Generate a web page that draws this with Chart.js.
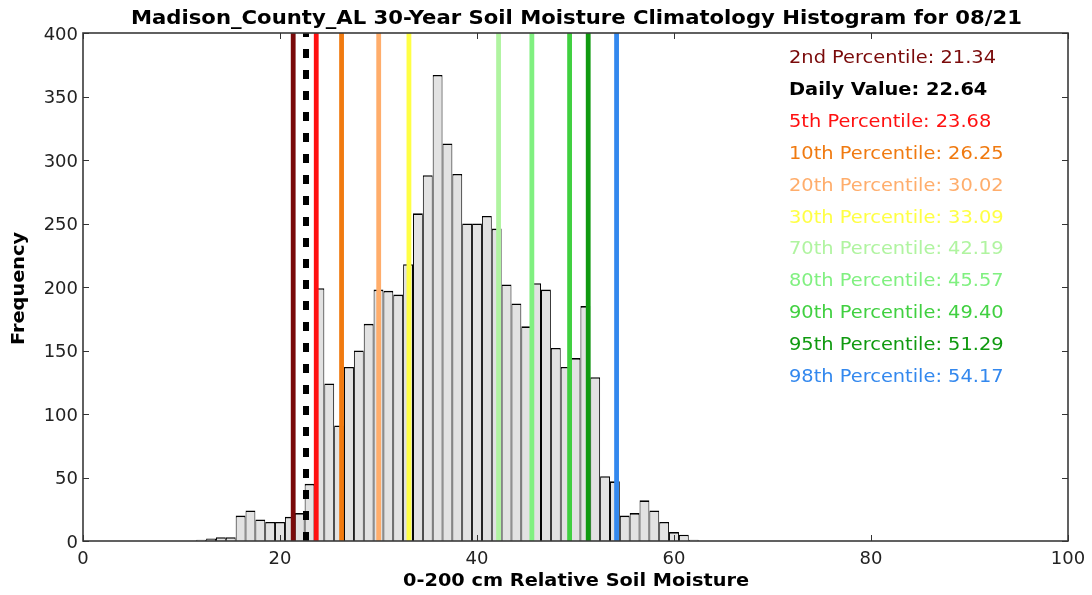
<!DOCTYPE html>
<html>
<head>
<meta charset="utf-8">
<script src="https://cdn.jsdelivr.net/npm/chart.js@4/dist/chart.umd.min.js"></script>
<style>
html,body{margin:0;padding:0;background:#fff;}
canvas{display:block;}
</style>
</head>
<body>
<canvas id="c" width="1092" height="595"></canvas>
<script>
// ---- data ----
const binCenters = [12,13,14,15,16,17,18,19,20,21,22,23,24,25,26,27,28,29,30,31,32,33,34,35,36,37,38,39,40,41,42,43,44,45,46,47,48,49,50,51,52,53,54,55,56,57,58,59,60,61,62];
const counts = [1,2,3,3,20,24,17,15,15,19,22,45,199,124,91,137,150,171,198,197,194,218,258,288,367,313,289,250,250,256,246,202,187,169,203,198,152,137,144,185,129,51,47,20,22,32,24,15,7,5,1];
const markerLabels = ["2nd Percentile","Daily Value","5th Percentile","10th Percentile","20th Percentile","30th Percentile","70th Percentile","80th Percentile","90th Percentile","95th Percentile","98th Percentile"];
const markerValues = [21.34,22.64,23.68,26.25,30.02,33.09,42.19,45.57,49.40,51.29,54.17];
const markerColors = ["#7a0a0a","#000000","#ff1010","#f07a10","#ffad6b","#ffff44","#b0f4a0","#80f080","#40d040","#109a10","#3388ee"];
const xTicks = [0,20,40,60,80,100];
const yTicks = [0,50,100,150,200,250,300,350,400];
const titleText = "Madison_County_AL 30-Year Soil Moisture Climatology Histogram for 08/21";
const xTitle = "0-200 cm Relative Soil Moisture";
const yTitle = "Frequency";

const FONT = '"DejaVu Sans", sans-serif';

const lineDatasets = markerValues.map((v, i) => ({
  type: 'line',
  label: markerLabels[i],
  data: [{x: v, y: 0}, {x: v, y: 400}],
  borderColor: markerColors[i],
  borderWidth: i === 1 ? 6 : 4.8,
  borderDash: i === 1 ? [9, 12] : [],
  pointRadius: 0,
  fill: false,
  order: 0
}));

const barDataset = {
  type: 'bar',
  label: 'hist',
  data: binCenters.map((c, i) => ({x: c, y: counts[i]})),
  backgroundColor: '#e2e2e2',
  borderColor: '#000000',
  borderWidth: { top: 1.6, left: 1, right: 1, bottom: 0 },
  borderSkipped: false,
  inflateAmount: 0,
  barPercentage: 1.0,
  categoryPercentage: 1.0,
  order: 10
};

function fitText(ctx, text, x, y, w, font, color, align) {
  ctx.save();
  ctx.font = font;
  ctx.fillStyle = color;
  ctx.textAlign = align || 'left';
  ctx.textBaseline = 'alphabetic';
  const m = ctx.measureText(text).width;
  const sx = w ? w / m : 1;
  ctx.translate(x, y);
  ctx.scale(sx, 1);
  ctx.fillText(text, 0, 0);
  ctx.restore();
}

const decor = {
  id: 'decor',
  afterDraw(chart) {
    const ctx = chart.ctx;
    const a = chart.chartArea;
    const xs = chart.scales.x, ys = chart.scales.y;
    ctx.save();
    // frame
    ctx.strokeStyle = '#3a3a3a';
    ctx.lineWidth = 1.6;
    ctx.strokeRect(a.left, a.top, a.right - a.left, a.bottom - a.top);
    // inward ticks
    ctx.lineWidth = 1;
    ctx.strokeStyle = '#333';
    ctx.beginPath();
    xTicks.forEach(t => {
      const px = Math.round(xs.getPixelForValue(t)) + 0.5;
      ctx.moveTo(px, a.bottom); ctx.lineTo(px, a.bottom - 6);
      ctx.moveTo(px, a.top); ctx.lineTo(px, a.top + 6);
    });
    yTicks.forEach(t => {
      const py = Math.round(ys.getPixelForValue(t)) + 0.5;
      ctx.moveTo(a.left, py); ctx.lineTo(a.left + 6, py);
      ctx.moveTo(a.right, py); ctx.lineTo(a.right - 6, py);
    });
    ctx.stroke();
    // tick labels
    ctx.font = '18px ' + FONT;
    ctx.fillStyle = '#222';
    ctx.textAlign = 'center';
    ctx.textBaseline = 'alphabetic';
    xTicks.forEach(t => {
      ctx.fillText(String(t), xs.getPixelForValue(t), 564);
    });
    ctx.textAlign = 'right';
    yTicks.forEach(t => {
      ctx.fillText(String(t), a.left - 5, ys.getPixelForValue(t) + 6.5);
    });
    ctx.restore();

    // title
    fitText(ctx, titleText, 576.5, 24, 891, 'bold 19px ' + FONT, '#000', 'center');
    // axis titles
    fitText(ctx, xTitle, 576, 586, 346, 'bold 17px ' + FONT, '#000', 'center');
    ctx.save();
    ctx.translate(24, 288.5);
    ctx.rotate(-Math.PI / 2);
    fitText(ctx, yTitle, 0, 0, 113, 'bold 17px ' + FONT, '#000', 'center');
    ctx.restore();

    // percentile text
    ctx.save();
    ctx.font = '18px ' + FONT;
    const ref = ctx.measureText("2nd Percentile: 21.34").width;
    const sx = 207 / ref;
    ctx.restore();
    markerLabels.forEach((lab, i) => {
      const txt = lab + ': ' + markerValues[i].toFixed(2);
      const bold = i === 1;
      ctx.save();
      ctx.font = (bold ? 'bold ' : '') + '18px ' + FONT;
      ctx.fillStyle = markerColors[i];
      ctx.textAlign = 'left';
      ctx.translate(789, 63 + i * 31.9);
      ctx.scale(sx, 1);
      ctx.fillText(txt, 0, 0);
      ctx.restore();
    });
  }
};

new Chart(document.getElementById('c'), {
  type: 'bar',
  data: { datasets: [...lineDatasets, barDataset] },
  options: {
    responsive: false,
    animation: false,
    devicePixelRatio: 1,
    layout: { padding: { top: 33, right: 24, left: 0, bottom: 0 } },
    plugins: { legend: { display: false }, tooltip: { enabled: false }, title: { display: false } },
    scales: {
      x: {
        type: 'linear', min: 0, max: 100, offset: false,
        ticks: { display: false, stepSize: 20 },
        grid: { display: false, offset: false },
        border: { display: false },
        afterFit: s => { s.height = 54; }
      },
      y: {
        type: 'linear', min: 0, max: 400,
        ticks: { display: false, stepSize: 50 },
        grid: { display: false },
        border: { display: false },
        afterFit: s => { s.width = 83; }
      }
    }
  },
  plugins: [decor]
});
</script>
</body>
</html>
